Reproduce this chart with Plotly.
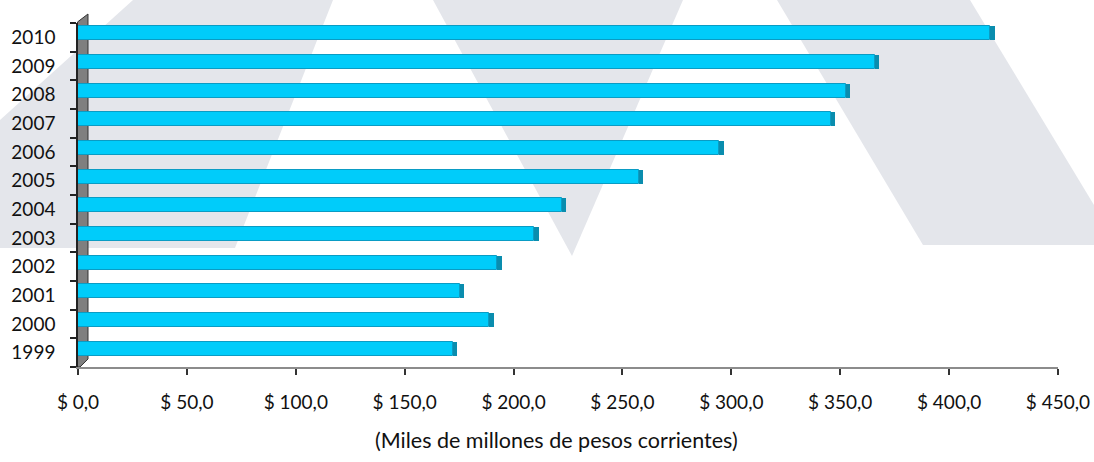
import plotly.graph_objects as go

# ---- data ----
years = ["1999", "2000", "2001", "2002", "2003", "2004", "2005", "2006", "2007", "2008", "2009", "2010"]
values = [172.1, 188.9, 175.2, 192.6, 209.6, 222.1, 257.5, 294.5, 345.6, 352.5, 365.8, 419.0]
x_tickvals = [0, 50, 100, 150, 200, 250, 300, 350, 400, 450]
x_ticktext = ["$ 0,0", "$ 50,0", "$ 100,0", "$ 150,0", "$ 200,0", "$ 250,0",
              "$ 300,0", "$ 350,0", "$ 400,0", "$ 450,0"]
value_labels = ["$ " + f"{v:.1f}".replace(".", ",") for v in values]
axis_title = "(Miles de millones de pesos corrientes)"

# ---- layout geometry (pixels) ----
W, H = 1094, 462
L, R, T, B = 78, 36, 23, 95
PW, PH = W - L - R, H - T - B
FONT = "Lato, 'Open Sans', sans-serif"


def px(x):
    return (x - L) / PW


def py(y):
    return (H - B - y) / PH


def poly(points):
    return "M " + " L ".join(f"{px(a):.5f},{py(b):.5f}" for a, b in points) + " Z"


BAR_W = 0.49
BAR_OFF = -BAR_W / 2 + 0.14
CAP = 2.0

fig = go.Figure()
fig.add_trace(go.Bar(
    y=years, x=values, orientation="h",
    width=BAR_W, offset=BAR_OFF,
    marker=dict(color="#00CCFA", line=dict(color="#0A9CC4", width=1)),
    hoverinfo="x+y", showlegend=False,
))
fig.add_trace(go.Bar(
    y=years, x=[CAP] * len(values), base=values, orientation="h",
    width=BAR_W, offset=BAR_OFF,
    marker=dict(color="#0A8DAE", line=dict(width=0)),
    hoverinfo="skip", showlegend=False,
))

annotations = []
for yv, v, lab in zip(years, values, value_labels):
    annotations.append(dict(
        x=v, y=yv, xref="x", yref="y", text=lab, showarrow=False,
        xanchor="left", yanchor="middle", xshift=17, yshift=4,
        font=dict(family=FONT, size=19, color="#17375E"),
    ))
annotations.append(dict(
    x=px(556), y=py(440), xref="paper", yref="paper", text=axis_title,
    showarrow=False, xanchor="center", yanchor="middle",
    font=dict(family=FONT, size=21.5, color="#111111"),
))

wm = "#E4E6EB"
shapes = [
    # watermark
    dict(type="path", xref="paper", yref="paper", layer="below",
         path=poly([(133, 0), (333, 0), (235, 248), (0, 248), (0, 120)]),
         fillcolor=wm, line=dict(width=0)),
    dict(type="path", xref="paper", yref="paper", layer="below",
         path=poly([(433, 0), (683, 0), (572, 256)]),
         fillcolor=wm, line=dict(width=0)),
    dict(type="path", xref="paper", yref="paper", layer="below",
         path=poly([(777, 0), (970, 0), (1094, 205), (1094, 245), (923, 245)]),
         fillcolor=wm, line=dict(width=0)),
    # 3D wall on the left
    dict(type="path", xref="paper", yref="paper", layer="below",
         path=poly([(77.5, 367), (77.5, 22), (88, 14), (88, 359), (80, 367)]),
         fillcolor="#7F7F7F", line=dict(color="#333333", width=1)),
]

fig.update_layout(
    width=W, height=H,
    margin=dict(l=L, r=R, t=T, b=B, pad=0, autoexpand=False),
    paper_bgcolor="white", plot_bgcolor="rgba(0,0,0,0)",
    barmode="overlay", bargap=0,
    font=dict(family=FONT, size=19, color="#111111"),
    annotations=annotations, shapes=shapes,
    xaxis=dict(
        range=[0, 450], tickvals=x_tickvals, ticktext=x_ticktext,
        showgrid=False, zeroline=False, showline=True,
        linecolor="#8C8C8C", linewidth=2,
        ticks="outside", ticklen=6, tickcolor="#333333", tickwidth=1.5,
        ticklabelstandoff=11,
        tickfont=dict(family=FONT, size=19, color="#111111"),
        fixedrange=True,
    ),
    yaxis=dict(
        type="category", categoryorder="array", categoryarray=years,
        range=[-0.5, len(years) - 0.5],
        showgrid=False, zeroline=False, showline=True,
        linecolor="#222222", linewidth=1.5,
        ticks="outside", ticklen=6, tickcolor="#222222", tickwidth=1.5,
        tickson="boundaries", ticklabelstandoff=17,
        tickfont=dict(family=FONT, size=19, color="#111111"),
        fixedrange=True,
    ),
)

fig.write_html(
    "out.html",
    config={"displayModeBar": False},
    post_script="document.body.style.margin='0';document.body.style.overflow='hidden';",
)
